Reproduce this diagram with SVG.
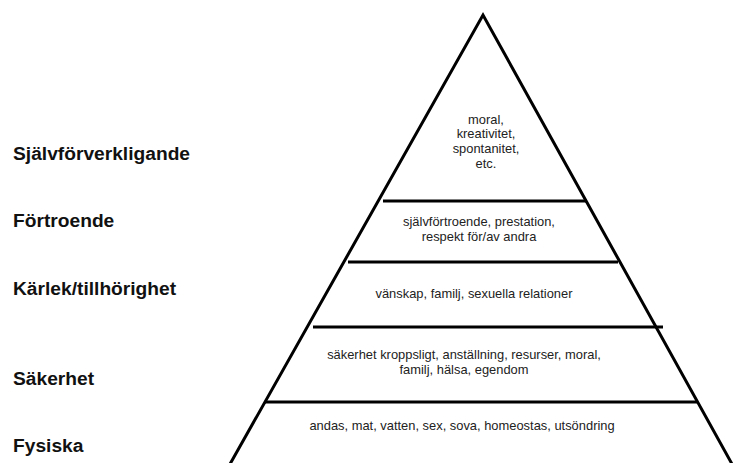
<svg xmlns="http://www.w3.org/2000/svg" width="733" height="463" viewBox="0 0 733 463">
<style>
.ln{stroke:#000;stroke-width:3;fill:none}
.lbl{font-family:"Liberation Sans",Arial,sans-serif;font-weight:bold;font-size:19.2px;fill:#111}
.txt{font-family:"Liberation Sans",Arial,sans-serif;font-size:12.9px;fill:#222;text-anchor:middle}
</style>
<rect width="733" height="463" fill="#fff"/>
<g id="connectors">
<polyline class="ln" points="227.5,468.5 483,15 734.5,468.5" stroke-linejoin="miter"/>
<line class="ln" x1="383" y1="201" x2="587" y2="201"/>
<line class="ln" x1="348" y1="262" x2="618" y2="262"/>
<line class="ln" x1="313" y1="327" x2="663" y2="327"/>
<line class="ln" x1="265" y1="402" x2="698" y2="402"/>
</g>
<g id="level5">
<text class="lbl" x="13" y="160">Självförverkligande</text>
<text class="txt" x="486" y="123.5">moral,</text>
<text class="txt" x="486" y="138.2">kreativitet,</text>
<text class="txt" x="486" y="152.9">spontanitet,</text>
<text class="txt" x="486" y="167.6">etc.</text>
</g>
<g id="level4">
<text class="lbl" x="13" y="227">Förtroende</text>
<text class="txt" x="479" y="226">självförtroende, prestation,</text>
<text class="txt" x="479" y="241">respekt för/av andra</text>
</g>
<g id="level3">
<text class="lbl" x="13" y="295">Kärlek/tillhörighet</text>
<text class="txt" x="474" y="297.5">vänskap, familj, sexuella relationer</text>
</g>
<g id="level2">
<text class="lbl" x="13" y="385">Säkerhet</text>
<text class="txt" x="464" y="358.5">säkerhet kroppsligt, anställning, resurser, moral,</text>
<text class="txt" x="464" y="374">familj, hälsa, egendom</text>
</g>
<g id="level1">
<text class="lbl" x="13" y="452">Fysiska</text>
<text class="txt" x="462" y="429.5">andas, mat, vatten, sex, sova, homeostas, utsöndring</text>
</g>
</svg>
